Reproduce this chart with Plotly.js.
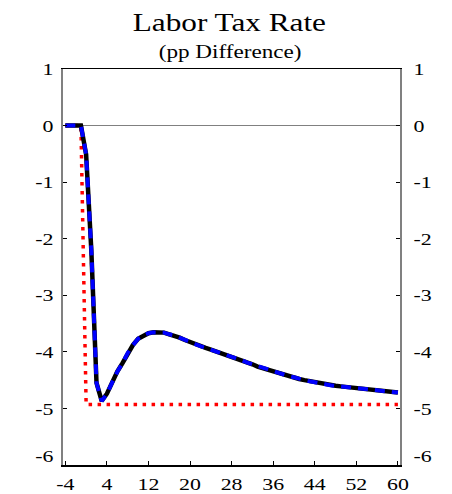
<!DOCTYPE html>
<html>
<head>
<meta charset="utf-8">
<script src="https://cdn.plot.ly/plotly-3.0.1.min.js"></script>
<style>
  html, body { margin: 0; padding: 0; background: #fff; }
  #chart { width: 452px; height: 494px; }
</style>
</head>
<body>
<div id="chart"></div>
<script>
// Quarters since the policy change
const quarters = [-4,-3,-2,-1,0,1,2,3,4,5,6,7,8,9,10,11,12,13,14,15,16,17,18,19,20,
  21,22,23,24,25,26,27,28,29,30,31,32,33,34,35,36,37,38,39,40,
  41,42,43,44,45,46,47,48,49,50,51,52,53,54,55,56,57,58,59,60];

// Black solid series (pp difference)
const blackValues = [0,0,0,0,-0.51,-2.2,-4.55,-4.87,-4.74,-4.53,-4.35,-4.2,-4.02,-3.88,-3.77,-3.71,-3.67,-3.655,-3.65,-3.66,-3.69,-3.71,-3.75,-3.79,-3.83,
  -3.86,-3.9,-3.93,-3.96,-3.99,-4.02,-4.05,-4.08,-4.12,-4.15,-4.19,-4.22,-4.26,-4.29,-4.32,-4.35,-4.38,-4.4,-4.43,-4.45,
  -4.48,-4.5,-4.52,-4.54,-4.56,-4.57,-4.59,-4.6,-4.61,-4.62,-4.64,-4.65,-4.66,-4.67,-4.68,-4.69,-4.7,-4.7,-4.71,-4.72];

// Blue dashed series (overlaps the black one)
const blueValues = [0,0,0,0,-0.51,-2.2,-4.55,-4.87,-4.74,-4.53,-4.35,-4.2,-4.02,-3.88,-3.77,-3.71,-3.67,-3.655,-3.65,-3.66,-3.69,-3.71,-3.75,-3.79,-3.83,
  -3.86,-3.9,-3.93,-3.96,-3.99,-4.02,-4.05,-4.08,-4.12,-4.15,-4.19,-4.22,-4.26,-4.29,-4.32,-4.35,-4.38,-4.4,-4.43,-4.45,
  -4.48,-4.5,-4.52,-4.54,-4.56,-4.57,-4.59,-4.6,-4.61,-4.62,-4.64,-4.65,-4.66,-4.67,-4.68,-4.69,-4.7,-4.7,-4.71,-4.72];

// Red dotted series (permanent cut)
const redValues = [0,0,0,0,-4.93,-4.93,-4.93,-4.93,-4.93,-4.93,-4.93,-4.93,-4.93,-4.93,-4.93,-4.93,-4.93,-4.93,-4.93,-4.93,-4.93,-4.93,-4.93,-4.93,-4.93,
  -4.93,-4.93,-4.93,-4.93,-4.93,-4.93,-4.93,-4.93,-4.93,-4.93,-4.93,-4.93,-4.93,-4.93,-4.93,-4.93,-4.93,-4.93,-4.93,-4.93,
  -4.93,-4.93,-4.93,-4.93,-4.93,-4.93,-4.93,-4.93,-4.93,-4.93,-4.93,-4.93,-4.93,-4.93,-4.93,-4.93,-4.93,-4.93,-4.93,-4.93];

const xTickVals = [-4,4,12,20,28,36,44,52,60];
const xTickText = ["-4","4","12","20","28","36","44","52","60"];
const yTickVals = [1,0,-1,-2,-3,-4,-5,-6];
const yTickText = ["1","0","-1","-2","-3","-4","-5","-6"];

const titleText = "Labor Tax Rate";
const subtitleText = "(pp Difference)";

const FONT = "'Liberation Serif', 'Times New Roman', serif";
const TEXT_STRETCH = 1.25;

const traces = [
  { x: quarters, y: redValues, type: "scatter", mode: "lines",
    line: { color: "#ff0000", width: 3.5, dash: "3.5px,5.5px" }, hoverinfo: "skip" },
  { x: quarters, y: blackValues, type: "scatter", mode: "lines",
    line: { color: "#000000", width: 4.5 }, hoverinfo: "skip" },
  { x: quarters, y: blueValues, type: "scatter", mode: "lines",
    line: { color: "#0000ff", width: 4, dash: "10px,7px" }, hoverinfo: "skip" },
  { x: quarters, y: blueValues, type: "scatter", mode: "lines", yaxis: "y2",
    line: { color: "rgba(0,0,0,0)", width: 0 }, hoverinfo: "skip" }
];

const yCommon = {
  range: [-6, 1],
  tickmode: "array",
  tickvals: yTickVals,
  ticktext: yTickText,
  ticks: "inside",
  ticklen: 4,
  tickwidth: 1,
  tickcolor: "#000",
  showgrid: false,
  showline: true,
  linecolor: "#808080",
  linewidth: 2,
  tickfont: { family: FONT, size: 17.5, color: "#000" },
  fixedrange: true
};

const layout = {
  width: 452,
  height: 494,
  margin: { l: 63, r: 52, t: 69, b: 29, pad: 0 },
  paper_bgcolor: "#fff",
  plot_bgcolor: "#fff",
  showlegend: false,
  xaxis: {
    range: [-4.45, 60.4],
    tickmode: "array",
    tickvals: xTickVals,
    ticktext: xTickText,
    ticks: "inside",
    ticklen: 4,
    tickwidth: 1,
    tickcolor: "#000",
    showgrid: false,
    zeroline: false,
    showline: true,
    mirror: true,
    linecolor: "#000",
    linewidth: 1.5,
    tickfont: { family: FONT, size: 17.5, color: "#000" },
    ticklabelstandoff: 3,
    fixedrange: true
  },
  yaxis: Object.assign({}, yCommon, {
    side: "left",
    zeroline: true,
    zerolinecolor: "#808080",
    zerolinewidth: 1.5,
    ticklabelstandoff: 4
  }),
  yaxis2: Object.assign({}, yCommon, {
    side: "right",
    overlaying: "y",
    anchor: "x",
    zeroline: false,
    ticklabelstandoff: 8
  }),
  annotations: [
    { text: titleText, xref: "paper", yref: "paper", x: 0.495, y: 1.118,
      xanchor: "center", yanchor: "middle", showarrow: false,
      font: { family: FONT, size: 25, color: "#000" } },
    { text: subtitleText, xref: "paper", yref: "paper", x: 0.495, y: 1.042,
      xanchor: "center", yanchor: "middle", showarrow: false,
      font: { family: FONT, size: 18.5, color: "#000" } }
  ]
};

Plotly.newPlot("chart", traces, layout, { displayModeBar: false, staticPlot: true }).then(function (gd) {
  // The reference typeface is drawn horizontally wider than normal Times; widen each text about its anchor.
  gd.querySelectorAll("svg text").forEach(function (t) {
    if (!t.textContent) return;
    const bb = t.getBBox();
    const anchor = t.getAttribute("text-anchor") || "start";
    let ox = bb.x + bb.width / 2;
    if (anchor === "end") ox = bb.x + bb.width;
    else if (anchor === "start") ox = bb.x;
    let extra = "";
    // the bottom y label sits a little above its tick in the reference
    const parent = t.parentNode;
    if (t.textContent === "-6" && parent && /ytick|y2tick/.test(parent.getAttribute("class") || "")) {
      extra = " translate(0,-9)";
    }
    const prev = t.getAttribute("transform") || "";
    t.setAttribute("transform", prev + extra + " translate(" + ox + ",0) scale(" + TEXT_STRETCH + ",1) translate(" + (-ox) + ",0)");
  });
});
</script>
</body>
</html>
